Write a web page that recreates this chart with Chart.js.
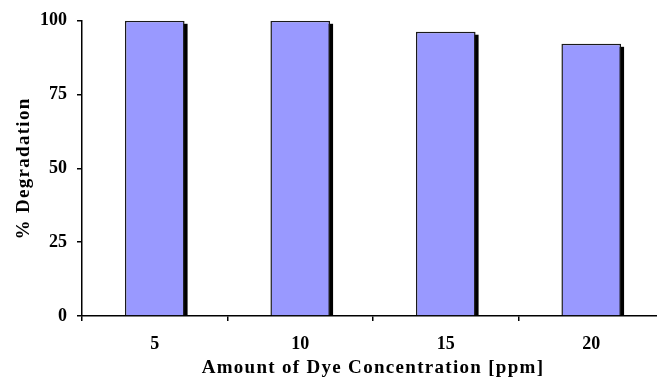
<!DOCTYPE html>
<html>
<head>
<meta charset="utf-8">
<script src="https://cdn.jsdelivr.net/npm/chart.js@4/dist/chart.umd.min.js"></script>
<style>
  html, body { margin: 0; padding: 0; background: #fff; overflow: hidden; }
  #wrap { width: 657px; height: 381px; overflow: hidden; }
  canvas { display: block; }
</style>
</head>
<body>
<div id="wrap"><canvas id="chart" width="666" height="381"></canvas></div>
<script>
// dye concentration (ppm) vs. % degradation
const concentrations = ['5', '10', '15', '20'];
const degradation = [100, 100, 96.3, 92.2];
const yTicks = [0, 25, 50, 75, 100];

const SERIF = '"Liberation Serif", "Times New Roman", serif';
const TITLE_SPACING = '1.3px';

// axis titles are set a little wider than the tick labels
function spaceTitle(scale) {
  if (scale._spaced) return;
  const draw = scale.drawTitle.bind(scale);
  scale.drawTitle = function () {
    this.ctx.letterSpacing = TITLE_SPACING;
    draw();
    this.ctx.letterSpacing = '0px';
  };
  scale._spaced = true;
}

// black drop shadow behind every bar
const barShadow = {
  id: 'barShadow',
  beforeDatasetsDraw(chart) {
    const ctx = chart.ctx;
    const off = 3;
    ctx.save();
    ctx.fillStyle = '#000';
    chart.getDatasetMeta(0).data.forEach(bar => {
      const { x, y, base, width } = bar.getProps(['x', 'y', 'base', 'width'], true);
      ctx.fillRect(x - width / 2 + off, y + off, width, base - y - off);
    });
    ctx.restore();
  },
};

const ctx = document.getElementById('chart').getContext('2d');
new Chart(ctx, {
  type: 'bar',
  data: {
    labels: concentrations,
    datasets: [{
      data: degradation,
      backgroundColor: '#9999ff',
      borderColor: '#1a1a1a',
      borderWidth: 1.5,
      categoryPercentage: 1,
      barPercentage: 0.41,
    }],
  },
  options: {
    responsive: false,
    animation: false,
    devicePixelRatio: 1,
    layout: { padding: { left: 0, top: 20, right: 2, bottom: 0 } },
    plugins: { legend: { display: false }, tooltip: { enabled: false } },
    scales: {
      x: {
        grid: { offset: true, drawOnChartArea: false, tickLength: 5, color: '#000', lineWidth: 1.5 },
        border: { color: '#000', width: 1.5 },
        ticks: { color: '#000', padding: 13, font: { family: SERIF, size: 18, weight: 'bold' } },
        title: {
          display: true,
          text: 'Amount of Dye Concentration [ppm]',
          color: '#000',
          font: { family: SERIF, size: 19, weight: 'bold' },
          padding: { top: 0, bottom: 2 },
        },
        afterFit(scale) { scale.height = 65; spaceTitle(scale); },
      },
      y: {
        min: 0,
        max: 100,
        afterBuildTicks(scale) { scale.ticks = yTicks.map(v => ({ value: v })); },
        grid: { drawOnChartArea: false, tickLength: 5, color: '#000', lineWidth: 1.5 },
        border: { color: '#000', width: 1.5 },
        ticks: { color: '#000', padding: 10, font: { family: SERIF, size: 18, weight: 'bold' } },
        title: {
          display: true,
          text: '% Degradation',
          color: '#000',
          font: { family: SERIF, size: 19, weight: 'bold' },
          padding: { top: 13, bottom: 0 },
        },
        afterFit(scale) { scale.width = 82; spaceTitle(scale); },
      },
    },
  },
  plugins: [barShadow],
});
</script>
</body>
</html>
